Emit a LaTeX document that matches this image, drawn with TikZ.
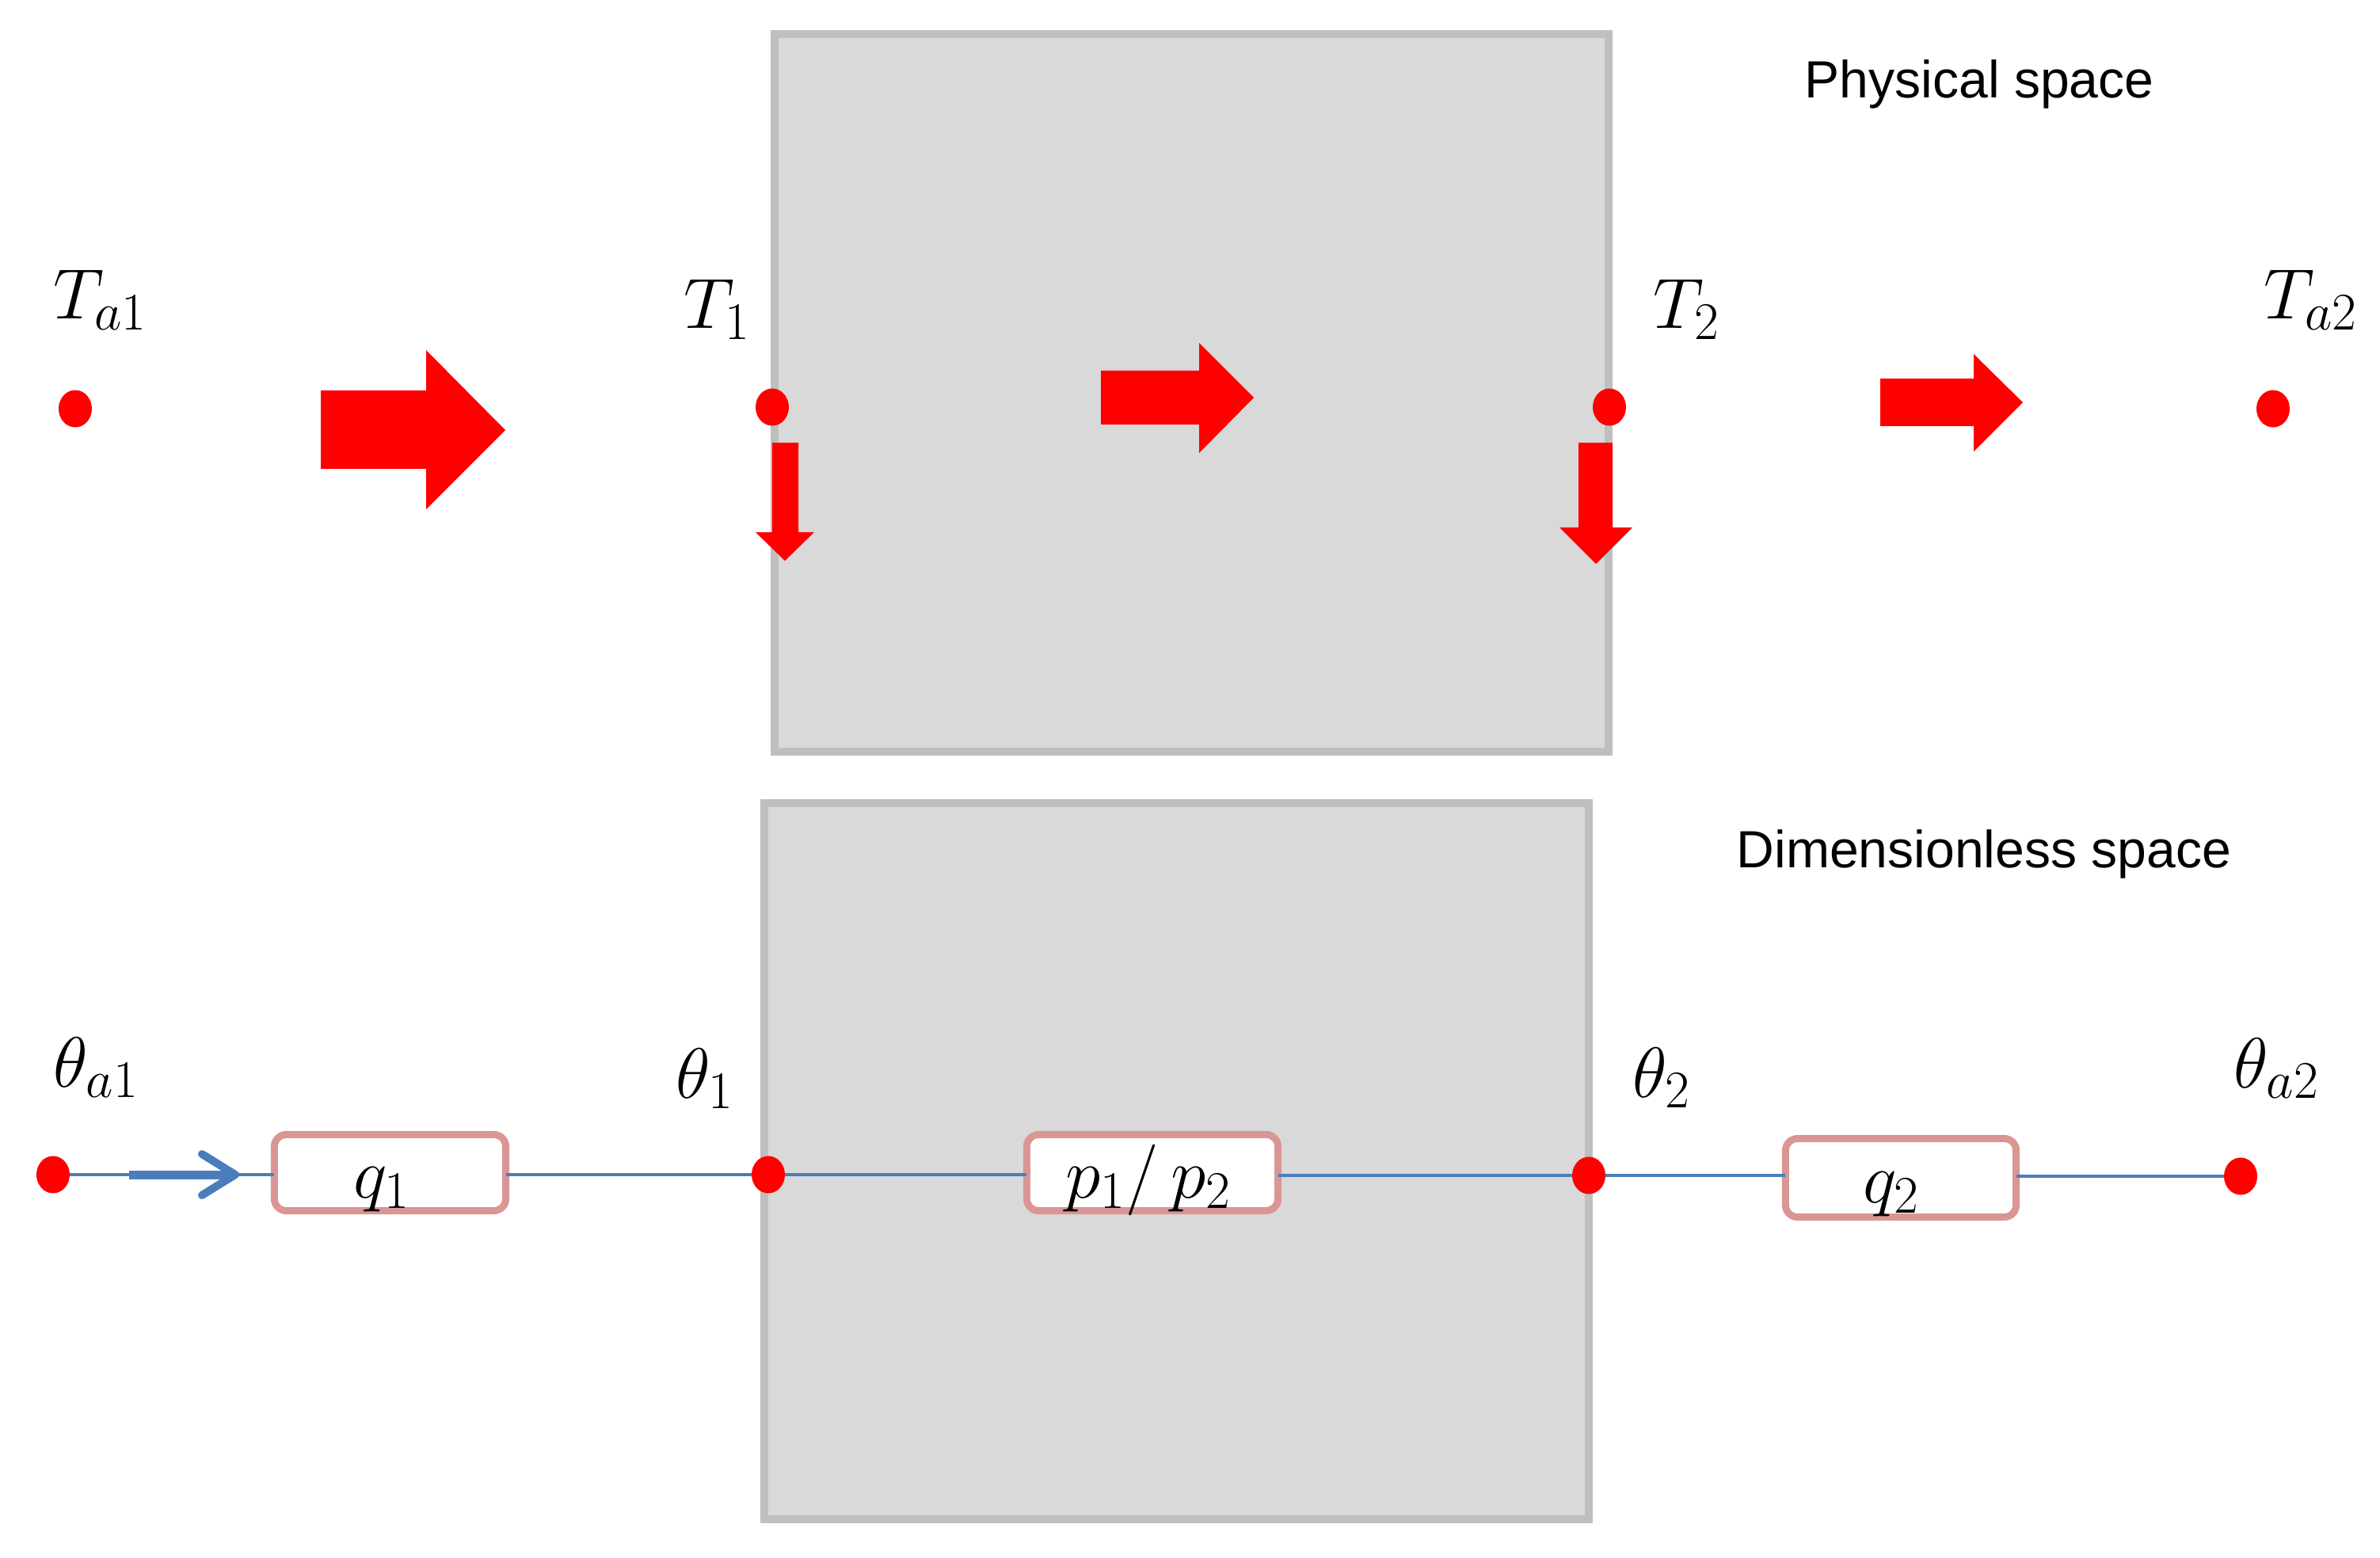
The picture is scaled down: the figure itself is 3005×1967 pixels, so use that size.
\RequirePackage{fix-cm}
\documentclass[tikz,border=0pt]{standalone}
\usepackage{fontspec}
\newfontfamily\arialish{Liberation Sans}
\usetikzlibrary{arrows.meta,shapes.geometric}
\DeclareMathSizes{25.6}{25.6}{19}{15}

\definecolor{boxgray}{HTML}{D9D9D9}
\definecolor{edgegray}{HTML}{BFBFBF}
\definecolor{lineblue}{HTML}{4A7EBB}
\definecolor{pinkedge}{HTML}{D99694}

\tikzset{
  reddot/.style={ellipse, fill=red, inner sep=0pt, outer sep=0pt, minimum width=0.42cm, minimum height=0.47cm},
  panel/.style={fill=boxgray, draw=edgegray, line width=0.1cm, inner sep=0pt, outer sep=0pt},
  resbox/.style={draw=pinkedge, fill=white, line width=0.09cm, rounded corners=0.15cm, inner sep=0pt, outer sep=0pt},
  link/.style={draw=lineblue, line width=0.045cm},
  flowarrow/.style={draw=lineblue, line width=0.11cm, -{Straight Barb[length=0.42cm,width=0.52cm,line width=0.1cm,round]}},
  blockarrow/.style={fill=red},
  mathlbl/.style={inner sep=0pt, anchor=base west, font=\fontsize{25.6}{30}\selectfont},
  boxlbl/.style={inner sep=0pt, anchor=base, font=\fontsize{25.6}{30}\selectfont},
  spacecap/.style={inner sep=0pt, anchor=base west, font=\arialish\fontsize{18.8}{22}\selectfont},
}

\begin{document}
\begin{tikzpicture}[x=0.01cm, y=-0.01cm]
\fill[white] (0,0) rectangle (3005,1967);
\useasboundingbox (0,0) rectangle (3005,1967);

% panels
\node[panel, minimum width=10.53cm, minimum height=9.06cm] (phys) at (1504.5,496) {};
\node[panel, minimum width=10.41cm, minimum height=9.035cm] (dimless) at (1485.5,1466.25) {};

% captions
\node[spacecap] (capphys) at (2278,124) {Physical space};
\node[spacecap] (capdim) at (2192,1095) {Dimensionless space};

% ---------- physical space ----------
\node[reddot] (Ta1) at (95,516) {};
\node[reddot] (T1) at (975,514) {};
\node[reddot] (T2) at (2032,514) {};
\node[reddot] (Ta2) at (2870,516) {};

\node[mathlbl] (lTa1) at (67,403) {$T_{a1}$};
\node[mathlbl] (lT1) at (863,415) {$T_1$};
\node[mathlbl] (lT2) at (2087,415) {$T_2$};
\node[mathlbl] (lTa2) at (2858,403) {$T_{a2}$};

\fill[blockarrow] (405,493) -- (538,493) -- (538,442) -- (638,543) -- (538,643) -- (538,592) -- (405,592) -- cycle;
\fill[blockarrow] (1390,468) -- (1514,468) -- (1514,433) -- (1583,502) -- (1514,572) -- (1514,536) -- (1390,536) -- cycle;
\fill[blockarrow] (2374,478) -- (2492,478) -- (2492,447) -- (2554,508) -- (2492,570) -- (2492,538) -- (2374,538) -- cycle;
\fill[blockarrow] (975,559) -- (1008,559) -- (1008,672) -- (1028,672) -- (991,708) -- (954,672) -- (975,672) -- cycle;
\fill[blockarrow] (1993,559) -- (2036,559) -- (2036,666) -- (2061,666) -- (2015,712) -- (1969,666) -- (1993,666) -- cycle;

% ---------- dimensionless space ----------
\node[reddot] (th_a1) at (67,1483) {};
\node[reddot] (th1) at (970,1483) {};
\node[reddot] (th2) at (2006,1484) {};
\node[reddot] (th_a2) at (2829,1485) {};

\node[resbox, minimum width=2.92cm, minimum height=0.96cm] (q1) at (492.5,1480.5) {};
\node[resbox, minimum width=3.17cm, minimum height=0.96cm] (p12) at (1455,1480.5) {};
\node[resbox, minimum width=2.91cm, minimum height=0.99cm] (q2) at (2400,1487) {};

\draw[link] (th_a1.east) -- (th_a1.east -| q1.west);
\draw[link] (q1.east |- th1) -- (th1.west);
\draw[link] (th1.east) -- (th1.east -| p12.west);
\draw[link] (p12.east |- th2) -- (th2.west);
\draw[link] (th2.east) -- (th2.east -| q2.west);
\draw[link] (q2.east |- th_a2) -- (th_a2.west);

\coordinate (fS) at (163,1483);
\coordinate (fE) at (302,1483);
\draw[flowarrow] (fS) -- (fE);

\node[boxlbl] (lq1) at (482,1512) {$q_1$};
\node[boxlbl] (lp12) at (1450,1512) {$p_1/\,p_2$};
\node[boxlbl] (lq2) at (2388,1518) {$q_2$};

\node[mathlbl] (lth_a1) at (67,1372) {$\theta_{a1}$};
\node[mathlbl] (lth1) at (853,1386) {$\theta_1$};
\node[mathlbl] (lth2) at (2061,1385) {$\theta_2$};
\node[mathlbl] (lth_a2) at (2820,1373) {$\theta_{a2}$};
\end{tikzpicture}
\end{document}
